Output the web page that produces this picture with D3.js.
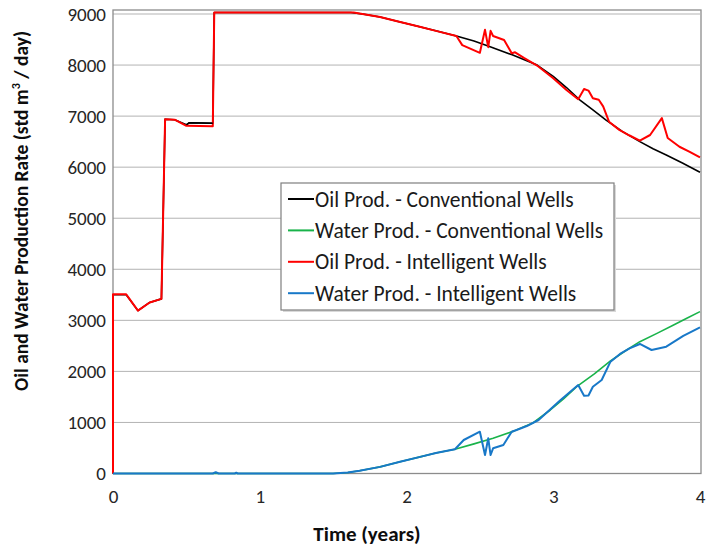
<!DOCTYPE html>
<html>
<head>
<meta charset="utf-8">
<script src="https://cdn.jsdelivr.net/npm/d3@7"></script>
<style>
  body { margin: 0; background: #fff; }
  text { font-family: Calibri, Carlito, Lato, sans-serif; }
</style>
</head>
<body>
<div id="chart"></div>
<script>
// values (time in years, rate in std m3/day)
var oilConvT = [0, 0, 0.09, 0.17, 0.25, 0.33, 0.355, 0.42, 0.5, 0.52, 0.68, 0.69, 1.0, 1.4, 1.62, 1.7, 1.82, 1.95, 2.09, 2.2, 2.34, 2.46, 2.57, 2.72, 2.89, 3.0, 3.09, 3.18, 3.27, 3.36, 3.47, 3.59, 3.68, 3.77, 3.88, 4.0];
var oilConv  = [0, 3500, 3500, 3190, 3350, 3420, 6940, 6930, 6830, 6870, 6860, 9030, 9030, 9030, 9030, 9000, 8940, 8850, 8750, 8670, 8570, 8470, 8360, 8200, 8000, 7780, 7560, 7320, 7120, 6920, 6700, 6500, 6360, 6240, 6080, 5900];

var waterConvT = [0, 1.5, 1.6, 1.68, 1.82, 1.956, 2.1, 2.2, 2.33, 2.46, 2.59, 2.73, 2.864, 2.98, 3.07, 3.16, 3.28, 3.39, 3.49, 3.59, 3.71, 3.82, 3.91, 4.0];
var waterConv  = [0, 0, 20, 55, 130, 231, 330, 400, 474, 580, 690, 830, 995, 1244, 1460, 1700, 1950, 2204, 2400, 2582, 2750, 2909, 3040, 3170];

var oilIntT = [0, 0, 0.09, 0.17, 0.25, 0.33, 0.355, 0.42, 0.5, 0.68, 0.69, 1.0, 1.4, 1.64, 1.7, 1.82, 1.95, 2.09, 2.2, 2.34, 2.38, 2.50, 2.535, 2.557, 2.573, 2.59, 2.665, 2.717, 2.74, 2.80, 2.89, 3.0, 3.09, 3.17, 3.21, 3.24, 3.27, 3.31, 3.34, 3.38, 3.45, 3.52, 3.59, 3.66, 3.74, 3.78, 3.86, 3.93, 4.0];
var oilInt  = [0, 3510, 3510, 3190, 3350, 3420, 6940, 6930, 6810, 6800, 9030, 9030, 9030, 9030, 9000, 8940, 8850, 8750, 8670, 8570, 8390, 8240, 8690, 8350, 8670, 8570, 8490, 8230, 8250, 8140, 7990, 7740, 7510, 7330, 7530, 7500, 7350, 7320, 7190, 6890, 6730, 6620, 6520, 6630, 6960, 6570, 6400, 6300, 6190];

var waterIntT = [0, 0.68, 0.70, 0.72, 0.83, 0.84, 0.85, 1.5, 1.6, 1.68, 1.82, 1.956, 2.1, 2.2, 2.33, 2.39, 2.50, 2.535, 2.557, 2.573, 2.59, 2.66, 2.717, 2.75, 2.82, 2.90, 3.05, 3.17, 3.21, 3.24, 3.27, 3.33, 3.39, 3.455, 3.52, 3.59, 3.67, 3.77, 3.886, 4.0];
var waterInt  = [0, 0, 25, 0, 0, 15, 0, 0, 20, 55, 130, 231, 330, 400, 474, 656, 819, 362, 690, 362, 494, 558, 819, 852, 930, 1048, 1440, 1734, 1524, 1528, 1700, 1832, 2190, 2341, 2450, 2537, 2419, 2484, 2694, 2864];

var seriesNames = ["Oil Prod. - Conventional Wells", "Water Prod. - Conventional Wells", "Oil Prod. - Intelligent Wells", "Water Prod. - Intelligent Wells"];
var xTicks = [0, 1, 2, 3, 4];
var yTicks = [0, 1000, 2000, 3000, 4000, 5000, 6000, 7000, 8000, 9000];

var width = 706, height = 549;
var svg = d3.select("#chart").append("svg")
    .attr("width", width)
    .attr("height", height);

var x = d3.scaleLinear().domain([0, 4]).range([113, 700]);
var y = d3.scaleLinear().domain([0, 9000]).range([473.5, 14]);

// gridlines
svg.append("g")
    .selectAll("line")
    .data(yTicks.slice(1))
    .enter().append("line")
    .attr("x1", x(0)).attr("x2", x(4))
    .attr("y1", d => y(d)).attr("y2", d => y(d))
    .attr("stroke", "#b3b3b3")
    .attr("stroke-width", 1);

// frame
svg.append("rect")
    .attr("x", x(0)).attr("y", 10)
    .attr("width", x(4) - x(0) + 1).attr("height", y(0) - 10)
    .attr("fill", "none")
    .attr("stroke", "#8c8c8c")
    .attr("stroke-width", 1.3);

// axes
svg.append("g")
    .attr("transform", "translate(" + x(0) + ",0)")
    .call(d3.axisLeft(y).tickValues(yTicks).tickFormat(d3.format("d")).tickSize(0).tickPadding(7));
svg.append("g")
    .attr("transform", "translate(0," + y(0) + ")")
    .call(d3.axisBottom(x).tickValues(xTicks).tickFormat(d3.format("d")).tickSize(0).tickPadding(16));
svg.selectAll(".domain").remove();
svg.selectAll(".tick text")
    .attr("font-size", 19)
    .attr("font-family", "Calibri, Carlito, Lato, sans-serif")
    .attr("fill", "#262626");

// lines
var line = d3.line().x(d => x(d[0])).y(d => y(d[1]));
var series = [
    {t: oilConvT, v: oilConv, color: "#000000", w: 1.6},
    {t: waterConvT, v: waterConv, color: "#19b34a", w: 1.6},
    {t: oilIntT, v: oilInt, color: "#ff0000", w: 2},
    {t: waterIntT, v: waterInt, color: "#1878c8", w: 2}
];
series.forEach(function(s) {
    svg.append("path")
        .datum(d3.zip(s.t, s.v))
        .attr("d", line)
        .attr("fill", "none")
        .attr("stroke", s.color)
        .attr("stroke-width", s.w)
        .attr("stroke-linejoin", "round");
});
// the black curve shows on top of the red only where they differ
svg.append("path")
    .datum(d3.zip(oilConvT, oilConv).filter(d => d[0] >= 0.5 && d[0] <= 0.68))
    .attr("d", line)
    .attr("fill", "none")
    .attr("stroke", "#000")
    .attr("stroke-width", 1.4);

// legend
var lg = svg.append("g").attr("transform", "translate(281,183)");
lg.append("rect")
    .attr("x", 2).attr("y", 2)
    .attr("width", 333).attr("height", 127)
    .attr("fill", "#d9d9d9");
lg.append("rect")
    .attr("width", 333).attr("height", 127)
    .attr("fill", "#fff")
    .attr("stroke", "#7f7f7f")
    .attr("stroke-width", 1.2);
series.forEach(function(s, i) {
    var cy = 16 + i * 31.4;
    lg.append("line")
        .attr("x1", 7).attr("x2", 33)
        .attr("y1", cy).attr("y2", cy)
        .attr("stroke", s.color)
        .attr("stroke-width", 2);
    lg.append("text")
        .attr("x", 34).attr("y", cy + 7.5)
        .attr("font-size", 21.5)
        .attr("fill", "#1a1a1a")
        .text(seriesNames[i]);
});

// axis titles
svg.append("text")
    .attr("x", 367).attr("y", 541)
    .attr("text-anchor", "middle")
    .attr("font-size", 21)
    .attr("font-weight", "bold")
    .attr("fill", "#0d0d0d")
    .text("Time (years)");

var yt = svg.append("text")
    .attr("transform", "translate(28,211) rotate(-90)")
    .attr("text-anchor", "middle")
    .attr("font-size", 19.5)
    .attr("font-weight", "bold")
    .attr("fill", "#0d0d0d");
yt.append("tspan").text("Oil and Water Production Rate (std m");
yt.append("tspan").attr("font-size", 12).attr("dy", -8).text("3");
yt.append("tspan").attr("dy", 8).text(" / day)");
</script>
</body>
</html>
